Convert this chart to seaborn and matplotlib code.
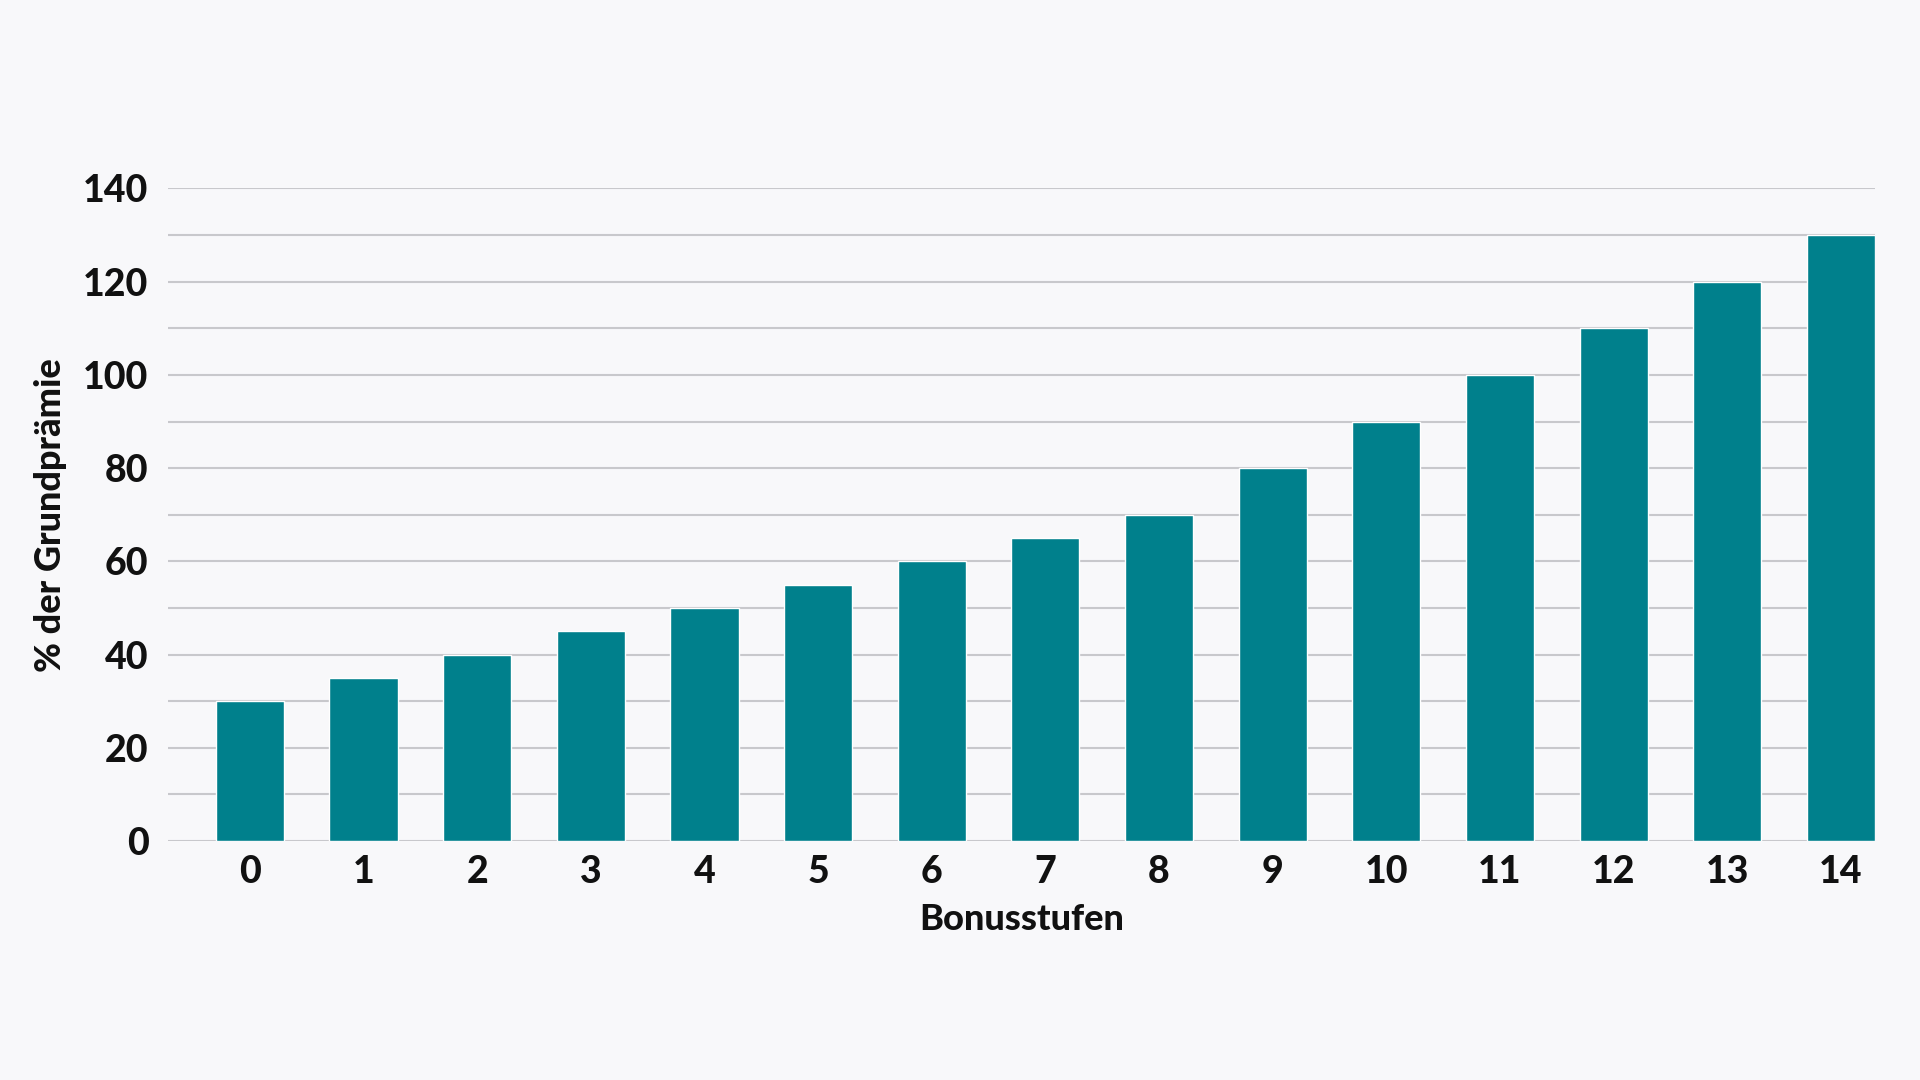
import pandas as pd
import seaborn as sns
import matplotlib.pyplot as plt

# Data
stufen = [str(i) for i in range(15)]
praemie = [30, 35, 40, 45, 50, 55, 60, 65, 70, 80, 90, 100, 110, 120, 130]
y_ticks = [0, 20, 40, 60, 80, 100, 120, 140]

df = pd.DataFrame({'Bonusstufen': stufen, 'Praemie': praemie})

sns.set_style('white')
plt.rcParams['font.family'] = ['Lato', 'DejaVu Sans']

bg = '#f8f8fa'
fig = plt.figure(figsize=(19.2, 10.8), dpi=100, facecolor=bg)
ax = fig.add_axes([0.0875, 0.2213, 0.8891, 0.6042])
ax.set_facecolor(bg)

sns.barplot(data=df, x='Bonusstufen', y='Praemie', color='#00808c',
            width=0.6, saturation=1, ax=ax, zorder=3)

ax.set_xlim(-0.72, 14.3)
ax.set_ylim(0, 140)
ax.set_yticks(range(0, 141, 10))
ax.set_yticklabels([str(v) if v in y_ticks else '' for v in range(0, 141, 10)])

ax.grid(axis='y', color='#c8c8cc', linewidth=1.5, zorder=0)
ax.set_axisbelow(True)
for s in ax.spines.values():
    s.set_visible(False)

ax.tick_params(axis='y', length=0, pad=14, labelsize=27)
ax.tick_params(axis='x', length=0, pad=10, labelsize=27)
for lbl in ax.get_xticklabels() + ax.get_yticklabels():
    lbl.set_fontweight('black')
    lbl.set_color('#111111')
for lbl in ax.get_yticklabels():
    lbl.set_verticalalignment('center_baseline')

ax.set_xlabel('Bonusstufen', fontsize=26, fontweight='black', color='#111111', labelpad=10)
ax.set_ylabel('% der Grundprämie', fontsize=26, fontweight='black', color='#111111', labelpad=12)

plt.savefig('out.png', dpi=100, facecolor=bg)
plt.close()
